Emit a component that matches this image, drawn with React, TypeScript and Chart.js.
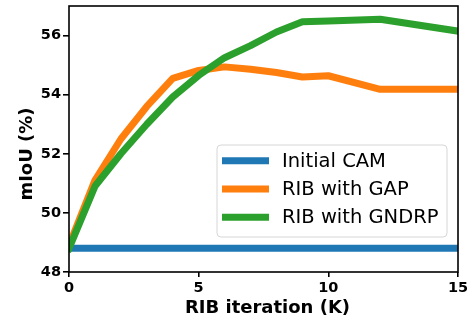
import React, { useEffect, useRef } from "react";
import { Chart, registerables } from "chart.js";

Chart.register(...registerables);

const seriesLabels = ["Initial CAM", "RIB with GAP", "RIB with GNDRP"];
const seriesColors = ["#1f77b4", "#ff7f0e", "#2ca02c"];

const camX = [0, 15];
const camY = [48.8, 48.8];

const gapX = [0, 1, 2, 3, 4, 5, 6, 7, 8, 9, 10, 12, 15];
const gapY = [48.9, 51.1, 52.5, 53.6, 54.55, 54.82, 54.94, 54.86, 54.75, 54.6, 54.64, 54.18, 54.18];

const gndrpX = [0, 1, 2, 3, 4, 5, 6, 7, 8, 9, 10, 12, 15];
const gndrpY = [48.8, 50.9, 52.0, 53.0, 53.92, 54.65, 55.25, 55.66, 56.12, 56.47, 56.49, 56.55, 56.15];

const xTicks = [0, 5, 10, 15];
const yTicks = [48, 50, 52, 54, 56];

const xTitle = "RIB iteration (K)";
const yTitle = "mIoU (%)";

const FONT = "'DejaVu Sans', sans-serif";

function pts(xs: number[], ys: number[]) {
  return xs.map((x, i) => ({ x, y: ys[i] }));
}

const decorPlugin = {
  id: "decor",
  afterDraw(chart: any) {
    const { ctx, chartArea } = chart;
    const { left, right, top, bottom } = chartArea;
    ctx.save();
    // frame
    ctx.strokeStyle = "#000";
    ctx.lineWidth = 1.6;
    ctx.strokeRect(left, top, right - left, bottom - top);

    // axis titles
    ctx.fillStyle = "#000";
    ctx.font = `bold 18px ${FONT}`;
    ctx.textAlign = "center";
    ctx.textBaseline = "alphabetic";
    ctx.fillText(xTitle, (left + right) / 2 + 4, bottom + 41);
    ctx.save();
    ctx.translate(left - 37.5, (top + bottom) / 2 + 15);
    ctx.rotate(-Math.PI / 2);
    ctx.fillText(yTitle, 0, 0);
    ctx.restore();

    // legend
    const bx = right - 241;
    const by = top + 139;
    const bw = 230;
    const bh = 92;
    const r = 4;
    ctx.beginPath();
    ctx.moveTo(bx + r, by);
    ctx.lineTo(bx + bw - r, by);
    ctx.arcTo(bx + bw, by, bx + bw, by + r, r);
    ctx.lineTo(bx + bw, by + bh - r);
    ctx.arcTo(bx + bw, by + bh, bx + bw - r, by + bh, r);
    ctx.lineTo(bx + r, by + bh);
    ctx.arcTo(bx, by + bh, bx, by + bh - r, r);
    ctx.lineTo(bx, by + r);
    ctx.arcTo(bx, by, bx + r, by, r);
    ctx.closePath();
    ctx.fillStyle = "rgba(255,255,255,0.8)";
    ctx.fill();
    ctx.strokeStyle = "#d6d6d6";
    ctx.lineWidth = 1;
    ctx.stroke();

    ctx.font = `19.5px ${FONT}`;
    ctx.textAlign = "left";
    ctx.textBaseline = "middle";
    const rowGap = 28.3;
    seriesLabels.forEach((lab, i) => {
      const cy = by + 15.7 + i * rowGap;
      ctx.strokeStyle = seriesColors[i];
      ctx.lineWidth = 7;
      ctx.lineCap = "butt";
      ctx.beginPath();
      ctx.moveTo(bx + 5, cy);
      ctx.lineTo(bx + 52, cy);
      ctx.stroke();
      ctx.fillStyle = "#000";
      ctx.fillText(lab, bx + 65, cy + 1);
    });
    ctx.restore();
  },
};

export default function App() {
  const ref = useRef<HTMLCanvasElement | null>(null);

  useEffect(() => {
    if (!ref.current) return;
    const mk = (i: number, data: any[], order: number) => ({
      label: seriesLabels[i],
      data,
      borderColor: seriesColors[i],
      backgroundColor: seriesColors[i],
      borderWidth: 7,
      pointRadius: 0,
      pointHoverRadius: 0,
      tension: 0,
      fill: false,
      borderJoinStyle: "round" as const,
      borderCapStyle: "square" as const,
      clip: 0,
      order,
    });
    const chart = new Chart(ref.current, {
      type: "line",
      data: {
        datasets: [
          mk(0, pts(camX, camY), 3),
          mk(1, pts(gapX, gapY), 2),
          mk(2, pts(gndrpX, gndrpY), 1),
        ],
      },
      plugins: [decorPlugin],
      options: {
        animation: false,
        responsive: false,
        devicePixelRatio: 1,
        layout: { padding: { left: 0, top: 6, right: 11, bottom: 0 } },
        plugins: { legend: { display: false }, tooltip: { enabled: false } },
        scales: {
          x: {
            type: "linear",
            min: 0,
            max: 15,
            afterBuildTicks: (axis: any) => {
              axis.ticks = xTicks.map((v) => ({ value: v }));
            },
            afterFit: (axis: any) => {
              axis.height = 48;
              axis.paddingLeft = 0;
              axis.paddingRight = 0;
            },
            grid: {
              drawOnChartArea: false,
              drawTicks: true,
              tickLength: 5,
              color: "#000",
              lineWidth: 1.6,
            },
            border: { display: false },
            ticks: {
              color: "#000",
              padding: 3,
              maxRotation: 0,
              font: { family: FONT, size: 14.5, weight: "bold" },
            },
          },
          y: {
            type: "linear",
            min: 48,
            max: 57,
            afterBuildTicks: (axis: any) => {
              axis.ticks = yTicks.map((v) => ({ value: v }));
            },
            afterFit: (axis: any) => {
              axis.width = 69;
              axis.paddingTop = 0;
              axis.paddingBottom = 0;
            },
            grid: {
              drawOnChartArea: false,
              drawTicks: true,
              tickLength: 6,
              color: "#000",
              lineWidth: 1.6,
            },
            border: { display: false },
            ticks: {
              color: "#000",
              padding: 2,
              font: { family: FONT, size: 14.5, weight: "bold" },
            },
          },
        },
      },
    });
    return () => chart.destroy();
  }, []);

  return (
    <div style={{ position: "absolute", left: 0, top: 0, width: 469, height: 320, background: "#fff" }}>
      <canvas ref={ref} width={469} height={320} style={{ width: 469, height: 320, display: "block" }} />
    </div>
  );
}
